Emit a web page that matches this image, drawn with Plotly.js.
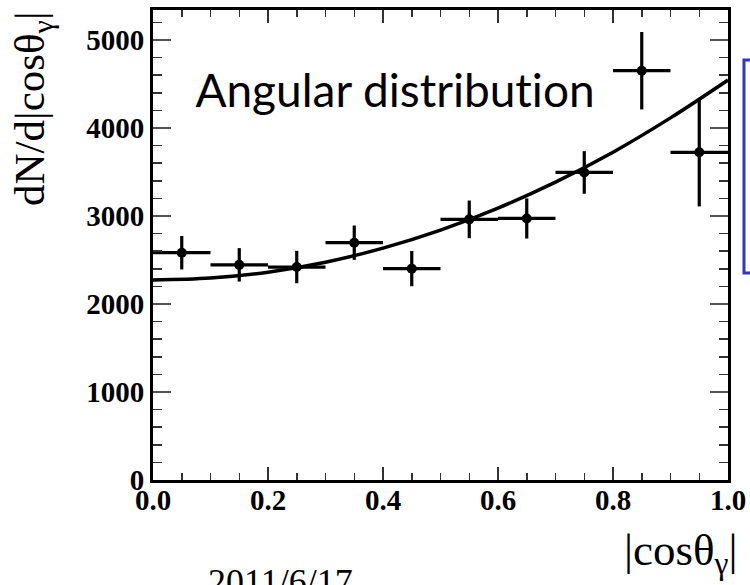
<!DOCTYPE html>
<html>
<head>
<meta charset="utf-8">
<script src="https://cdn.plot.ly/plotly-3.0.1.min.js"></script>
<style>
  html, body { margin: 0; padding: 0; background: #fff; }
  #plot { width: 750px; height: 585px; }
  #plot text { font-variant-ligatures: none; font-feature-settings: "liga" 0; }
</style>
</head>
<body>
<div id="plot"></div>
<script>
// Binned photon angular distribution: bin centres, counts and statistical errors
const binCenters = [0.05, 0.15, 0.25, 0.35, 0.45, 0.55, 0.65, 0.75, 0.85, 0.95];
const binHalfWidth = [0.05, 0.05, 0.05, 0.05, 0.05, 0.05, 0.05, 0.05, 0.05, 0.05];
const counts = [2583, 2445, 2420, 2697, 2402, 2962, 2972, 3495, 4651, 3724];
const countErrors = [190, 190, 184, 195, 200, 214, 228, 242, 440, 615];

// Fitted curve sampled along |cos(theta)|
const fitX = [0.0, 0.1, 0.2, 0.3, 0.4, 0.5, 0.6, 0.7, 0.8, 0.9, 1.0];
const fitY = [2273, 2295, 2362, 2475, 2635, 2840, 3090, 3385, 3725, 4115, 4545];

// Axis ticks
const xTickVals = [0.0, 0.2, 0.4, 0.6, 0.8, 1.0];
const xTickText = ['0.0', '0.2', '0.4', '0.6', '0.8', '1.0'];
const yTickVals = [0, 1000, 2000, 3000, 4000, 5000];
const yTickText = ['0', '1000', '2000', '3000', '4000', '5000'];

const serif = 'Liberation Serif, Times New Roman, serif';

const fit = {
  x: fitX,
  y: fitY,
  type: 'scatter',
  mode: 'lines',
  line: { color: '#000', width: 3.5, shape: 'spline', smoothing: 1 },
  hoverinfo: 'skip',
  showlegend: false
};

const data = {
  x: binCenters,
  y: counts,
  type: 'scatter',
  mode: 'markers',
  marker: { color: '#000', size: 10 },
  error_x: { type: 'data', array: binHalfWidth, visible: true, color: '#000', thickness: 3.2, width: 0 },
  error_y: { type: 'data', array: countErrors, visible: true, color: '#000', thickness: 3.2, width: 0 },
  showlegend: false
};

const tickFont = { family: serif, size: 29, color: '#000', weight: 'bold' };

const layout = {
  width: 750,
  height: 585,
  margin: { l: 153, r: 22, t: 10, b: 105 },
  paper_bgcolor: '#fff',
  plot_bgcolor: '#fff',
  showlegend: false,
  xaxis: {
    range: [0, 1],
    showgrid: false,
    zeroline: false,
    showline: true,
    linecolor: '#000',
    linewidth: 3,
    mirror: 'ticks',
    ticks: 'inside',
    ticklen: 13,
    tickwidth: 1.5,
    tickcolor: '#333',
    tickvals: xTickVals,
    ticktext: xTickText,
    tickfont: tickFont,
    ticklabelstandoff: -8,
    minor: { dtick: 0.05, ticks: 'inside', ticklen: 7, tickwidth: 1.5, tickcolor: '#333', showgrid: false }
  },
  yaxis: {
    range: [0, 5341],
    showgrid: false,
    zeroline: false,
    showline: true,
    linecolor: '#000',
    linewidth: 3,
    mirror: 'ticks',
    ticks: 'inside',
    ticklen: 18,
    tickwidth: 1.5,
    tickcolor: '#555',
    tickvals: yTickVals,
    ticktext: yTickText,
    tickfont: tickFont,
    minor: { dtick: 200, ticks: 'inside', ticklen: 9, tickwidth: 1.5, tickcolor: '#333', showgrid: false }
  },
  shapes: [
    {
      type: 'rect', xref: 'paper', yref: 'paper',
      x0: 1.0278, x1: 1.2, y0: 0.4404, y1: 0.8936,
      line: { color: '#3434c8', width: 3 },
      fillcolor: 'rgba(0,0,0,0)'
    }
  ],
  annotations: [
    {
      text: 'Angular distribution',
      xref: 'paper', yref: 'paper',
      x: 0.0696, y: 0.83, xanchor: 'left', yanchor: 'middle',
      showarrow: false,
      font: { family: 'Lato, Open Sans, sans-serif', size: 46, color: '#000' }
    },
    {
      text: 'dN/d|cosθ<sub>γ</sub>|',
      xref: 'paper', yref: 'paper',
      x: -0.21, y: 0.79, xanchor: 'center', yanchor: 'middle',
      textangle: -90,
      showarrow: false,
      font: { family: serif, size: 43, color: '#000' }
    },
    {
      text: '|cosθ<sub>γ</sub>|',
      xref: 'paper', yref: 'paper',
      x: 0.918, y: -0.155, xanchor: 'center', yanchor: 'middle',
      showarrow: false,
      font: { family: serif, size: 45, color: '#000' }
    },
    {
      text: '2011/6/17',
      xref: 'paper', yref: 'paper',
      x: 0.2226, y: -0.17, xanchor: 'center', yanchor: 'top',
      showarrow: false,
      font: { family: serif, size: 36, color: '#000' }
    }
  ]
};

Plotly.newPlot('plot', [fit, data], layout, { displayModeBar: false, staticPlot: true });
</script>
</body>
</html>
